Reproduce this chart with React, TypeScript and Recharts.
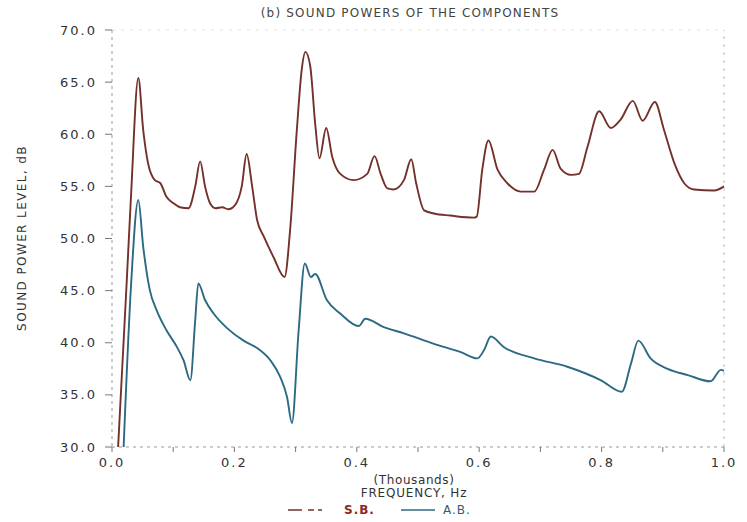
import { LineChart, Line, XAxis, YAxis, ReferenceLine } from 'recharts';

// S.B. component (frequency in thousands of Hz, level in dB)
const sbFreq = [
  0.010, 0.024, 0.031, 0.043, 0.051, 0.059, 0.070, 0.079, 0.089, 0.100,
  0.111, 0.125, 0.136, 0.144, 0.152, 0.160, 0.169, 0.180, 0.190, 0.201,
  0.212, 0.220, 0.229, 0.237, 0.248, 0.264, 0.282, 0.291, 0.302, 0.310,
  0.316, 0.324, 0.332, 0.339, 0.350, 0.360, 0.373, 0.395, 0.417, 0.429,
  0.439, 0.450, 0.460, 0.477, 0.489, 0.497, 0.510, 0.526, 0.553, 0.591,
  0.596, 0.605, 0.615, 0.630, 0.646, 0.668, 0.690, 0.706, 0.720, 0.733,
  0.750, 0.763, 0.777, 0.796, 0.815, 0.831, 0.851, 0.867, 0.887, 0.902,
  0.919, 0.935, 0.951, 0.984, 1.000,
];
const sbLevel = [
  30.0, 45.8, 54.0, 65.4, 60.4, 57.2, 55.6, 55.3, 54.0, 53.4,
  53.0, 52.9, 55.0, 57.4, 55.0, 53.4, 52.9, 53.0, 52.8, 53.2,
  55.0, 58.1, 55.0, 51.8, 50.2, 48.2, 46.3, 50.8, 60.4, 66.2,
  67.9, 66.5, 61.0, 57.7, 60.6, 57.8, 56.2, 55.6, 56.2, 57.9,
  56.2, 54.8, 54.7, 55.6, 57.6, 55.3, 52.7, 52.4, 52.2, 52.0,
  52.1, 56.6, 59.4, 56.6, 55.3, 54.5, 54.5, 56.6, 58.5, 56.7,
  56.1, 56.2, 58.8, 62.2, 60.6, 61.4, 63.2, 61.3, 63.1, 60.4,
  57.2, 55.3, 54.7, 54.6, 55.0,
];

// A.B. component
const abFreq = [
  0.019, 0.031, 0.043, 0.051, 0.062, 0.073, 0.089, 0.106, 0.117, 0.128,
  0.136, 0.141, 0.152, 0.166, 0.188, 0.215, 0.237, 0.259, 0.275, 0.286,
  0.294, 0.305, 0.315, 0.325, 0.332, 0.351, 0.373, 0.403, 0.414, 0.444,
  0.477, 0.526, 0.570, 0.597, 0.608, 0.619, 0.640, 0.690, 0.744, 0.799,
  0.833, 0.848, 0.860, 0.880, 0.908, 0.941, 0.978, 0.995, 1.000,
];
const abLevel = [
  30.0, 45.4, 53.7, 49.2, 45.0, 43.1, 41.2, 39.6, 38.3, 36.4,
  42.2, 45.7, 44.1, 42.8, 41.4, 40.2, 39.5, 38.3, 36.7, 34.8,
  32.3, 41.2, 47.6, 46.3, 46.6, 44.1, 42.8, 41.6, 42.3, 41.5,
  40.9, 39.9, 39.1, 38.5, 39.3, 40.6, 39.6, 38.5, 37.7, 36.4,
  35.3, 38.0, 40.2, 38.5, 37.5, 36.9, 36.3, 37.4, 37.3,
];

const xTicks = [0, 0.1, 0.2, 0.3, 0.4, 0.5, 0.6, 0.7, 0.8, 0.9, 1.0];
const yTicks = [30, 35, 40, 45, 50, 55, 60, 65, 70];

const sbData = sbFreq.map((f, i) => ({ f, v: sbLevel[i] }));
const abData = abFreq.map((f, i) => ({ f, v: abLevel[i] }));

const SB_COLOR = '#74302a';
const AB_COLOR = '#2c6a84';
const FONT = '"DejaVu Sans", sans-serif';

export default function App() {
  const tickStyle = { fill: '#333', fontSize: 13, letterSpacing: 2, fontFamily: FONT };
  return (
    <div style={{ position: 'absolute', left: 0, top: 0, width: 747, height: 522, background: '#fff', fontFamily: FONT }}>
      <LineChart width={747} height={522} margin={{ top: 30, right: 23, bottom: 55, left: 0 }}>
        <XAxis
          type="number"
          dataKey="f"
          domain={[0, 1]}
          ticks={xTicks}
          tickFormatter={(v: number) => (Math.round(v * 10) % 2 === 0 ? v.toFixed(1) : '')}
          height={20}
          tickSize={5}
          tickMargin={6}
          axisLine={{ stroke: '#999', strokeDasharray: '3 4' }}
          tickLine={{ stroke: '#777' }}
          tick={tickStyle}
          allowDuplicatedCategory={false}
        />
        <YAxis
          type="number"
          domain={[30, 70]}
          ticks={yTicks}
          tickFormatter={(v: number) => v.toFixed(1)}
          width={112}
          tickSize={7}
          tickMargin={8}
          axisLine={{ stroke: '#999', strokeDasharray: '3 4' }}
          tickLine={{ stroke: '#777' }}
          tick={tickStyle}
        />
        <ReferenceLine x={1} stroke="#bbb" strokeDasharray="3 5" />
        <ReferenceLine y={70} stroke="#e2e2e2" strokeDasharray="3 6" />
        <Line data={sbData} dataKey="v" type="monotone" stroke={SB_COLOR} strokeWidth={1.9} dot={false} isAnimationActive={false} />
        <Line data={abData} dataKey="v" type="monotone" stroke={AB_COLOR} strokeWidth={1.9} dot={false} isAnimationActive={false} />
      </LineChart>

      <div style={{ position: 'absolute', left: 0, width: 820, top: 6, textAlign: 'center', fontSize: 12, letterSpacing: 1.2, color: '#444' }}>
        (b) SOUND POWERS OF THE COMPONENTS
      </div>
      <div style={{ position: 'absolute', left: 22, top: 238, transform: 'translate(-50%, -50%) rotate(-90deg)', whiteSpace: 'nowrap', fontSize: 12, letterSpacing: 1.4, color: '#333' }}>
        SOUND POWER LEVEL, dB
      </div>
      <div style={{ position: 'absolute', left: 0, width: 828, top: 474, textAlign: 'center', fontSize: 12, color: '#333', lineHeight: '13px' }}>
        <div style={{ letterSpacing: 0.6 }}>(Thousands)</div>
        <div style={{ letterSpacing: 0.8 }}>FREQUENCY, Hz</div>
      </div>
      <div style={{ position: 'absolute', left: 288, top: 503, fontSize: 12, lineHeight: '14px', display: 'flex', alignItems: 'center' }}>
        <svg width={34} height={10}>
          <line x1={0} y1={5} x2={34} y2={5} stroke={SB_COLOR} strokeWidth={1.5} strokeDasharray="14 6 6 4" />
        </svg>
        <span style={{ marginLeft: 22, color: '#8a2a22', fontWeight: 'bold', letterSpacing: 1 }}>S.B.</span>
        <svg width={34} height={10} style={{ marginLeft: 26 }}>
          <line x1={0} y1={5} x2={34} y2={5} stroke={AB_COLOR} strokeWidth={1.5} />
        </svg>
        <span style={{ marginLeft: 8, color: '#2c5f73', letterSpacing: 1 }}>A.B.</span>
      </div>
    </div>
  );
}
